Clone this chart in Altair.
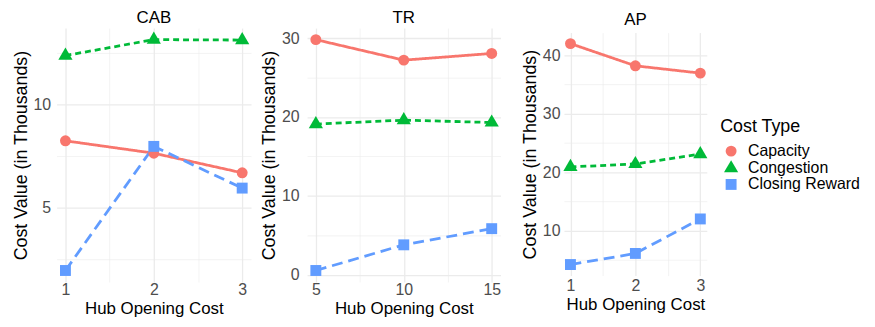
import altair as alt
import pandas as pd

# ---- data ----
cost_types = ["Capacity", "Congestion", "Closing Reward"]
type_colors = ["#F8766D", "#00BA38", "#619CFF"]
# ggplot-like triangle (centroid at the data point) as custom path
type_shapes = ["circle", "M0,-1.49L1.3,0.75L-1.3,0.75Z", "square"]
type_dashes = [[1, 0], [6, 4], [11, 6]]

cab_hub = [1, 2, 3]
cab_capacity = [8.22, 7.62, 6.67]
cab_congestion = [12.35, 13.12, 13.1]
cab_closing = [1.94, 7.95, 5.93]

tr_hub = [5, 10, 15]
tr_capacity = [29.8, 27.2, 28.05]
tr_congestion = [19.1, 19.6, 19.3]
tr_closing = [0.55, 3.8, 5.85]

ap_hub = [1, 2, 3]
ap_capacity = [42.0, 38.2, 36.95]
ap_congestion = [20.9, 21.4, 23.1]
ap_closing = [4.2, 6.1, 12.0]

cab_x_ticks = [1, 1.5, 2, 2.5, 3]
cab_y_ticks = [2.5, 5, 7.5, 10, 12.5]
tr_x_ticks = [5, 7.5, 10, 12.5, 15]
tr_y_ticks = [0, 5, 10, 15, 20, 25, 30]
ap_x_ticks = [1, 1.5, 2, 2.5, 3]
ap_y_ticks = [5, 10, 15, 20, 25, 30, 35, 40]

FONT = "Liberation Sans"


def expand(vals, frac=0.05):
    lo, hi = min(vals), max(vals)
    pad = (hi - lo) * frac
    return [lo - pad, hi + pad]


legend = alt.Legend(
    title="Cost Type",
    orient="none",
    legendX=669,
    legendY=91,
    symbolSize=121,
    symbolStrokeWidth=0,
    labelFontSize=16,
    titleFontSize=18,
    titleFontWeight="normal",
    titleColor="black",
    labelColor="black",
    labelFont=FONT,
    titleFont=FONT,
    rowPadding=0.3,
    titlePadding=7,
    padding=0,
    symbolOffset=3,
    labelOffset=9,
)


def panel(name, hub, cap, cong, clos, x_ticks, x_major, y_ticks, y_major,
          width, height, title_offset, y_label_pad, x_label_pad):
    rows = []
    for t, vals in zip(cost_types, [cap, cong, clos]):
        for h, v in zip(hub, vals):
            rows.append({"hub": h, "value": v, "type": t})
    df = pd.DataFrame(rows)
    xdom = expand(hub)
    ydom = expand(cap + cong + clos)

    x_axis = alt.Axis(
        values=x_ticks,
        format="~g",
        title="Hub Opening Cost",
        labelExpr=f"datum.value % {x_major} === 0 ? datum.label : ''",
        gridWidth={"condition": {"test": f"datum.value % {x_major} === 0", "value": 1.3}, "value": 0.6},
        labelPadding=x_label_pad,
        titlePadding=3,
        labelFlush=False,
        titleFontSize=17,
    )
    y_axis = alt.Axis(
        values=y_ticks,
        format="~g",
        title="Cost Value (in Thousands)",
        labelExpr=f"datum.value % {y_major} === 0 ? datum.label : ''",
        gridWidth={"condition": {"test": f"datum.value % {y_major} === 0", "value": 1.3}, "value": 0.6},
        labelPadding=y_label_pad,
        titlePadding=3,
    )
    x = alt.X("hub:Q", scale=alt.Scale(domain=xdom, nice=False, zero=False), axis=x_axis)
    y = alt.Y("value:Q", scale=alt.Scale(domain=ydom, nice=False, zero=False), axis=y_axis)
    color = alt.Color("type:N", scale=alt.Scale(domain=cost_types, range=type_colors), legend=legend)
    base = alt.Chart(df)
    lines = base.mark_line(strokeWidth=2.8).encode(
        x=x, y=y, color=color,
        strokeDash=alt.StrokeDash("type:N", scale=alt.Scale(domain=cost_types, range=type_dashes), legend=None),
    )
    pts = base.mark_point(filled=True, size=121, opacity=1).encode(
        x=x, y=y, color=color,
        shape=alt.Shape("type:N", scale=alt.Scale(domain=cost_types, range=type_shapes), legend=legend),
    )
    return alt.layer(lines, pts).properties(
        width=width, height=height,
        title=alt.TitleParams(name, offset=title_offset),
    )


cab = panel("CAB", cab_hub, cab_capacity, cab_congestion, cab_closing,
            cab_x_ticks, 1, cab_y_ticks, 5, 196, 256, 1, 6, 0)
tr = panel("TR", tr_hub, tr_capacity, tr_congestion, tr_closing,
           tr_x_ticks, 5, tr_y_ticks, 10, 195, 256, 1, 8, 0)
ap = panel("AP", ap_hub, ap_capacity, ap_congestion, ap_closing,
           ap_x_ticks, 1, ap_y_ticks, 10, 144, 245, 4, 4, 2)

# an empty 1px column that only widens the gap before the AP panel
spacer = alt.Chart(pd.DataFrame({"z": [0]})).mark_point(size=0, opacity=0).encode(
    x=alt.value(0), y=alt.value(0)
).properties(width=1, height=1)

chart = alt.hconcat(cab, tr, spacer, ap, spacing=9.5, center=True).resolve_scale(
    color="shared", shape="shared", strokeDash="shared"
).properties(
    padding={"left": 4, "top": 0, "right": 7, "bottom": 0}
).configure_view(stroke=None).configure_axis(
    domain=False, ticks=False, gridColor="#EBEBEB",
    labelFont=FONT, titleFont=FONT, labelFontSize=16, titleFontSize=18,
    labelColor="#4D4D4D", titleColor="black", titleFontWeight="normal",
).configure_title(
    font=FONT, fontSize=17, fontWeight="normal", color="black", anchor="middle",
)

chart.save("out.html", embed_options={"renderer": "svg", "actions": False})
